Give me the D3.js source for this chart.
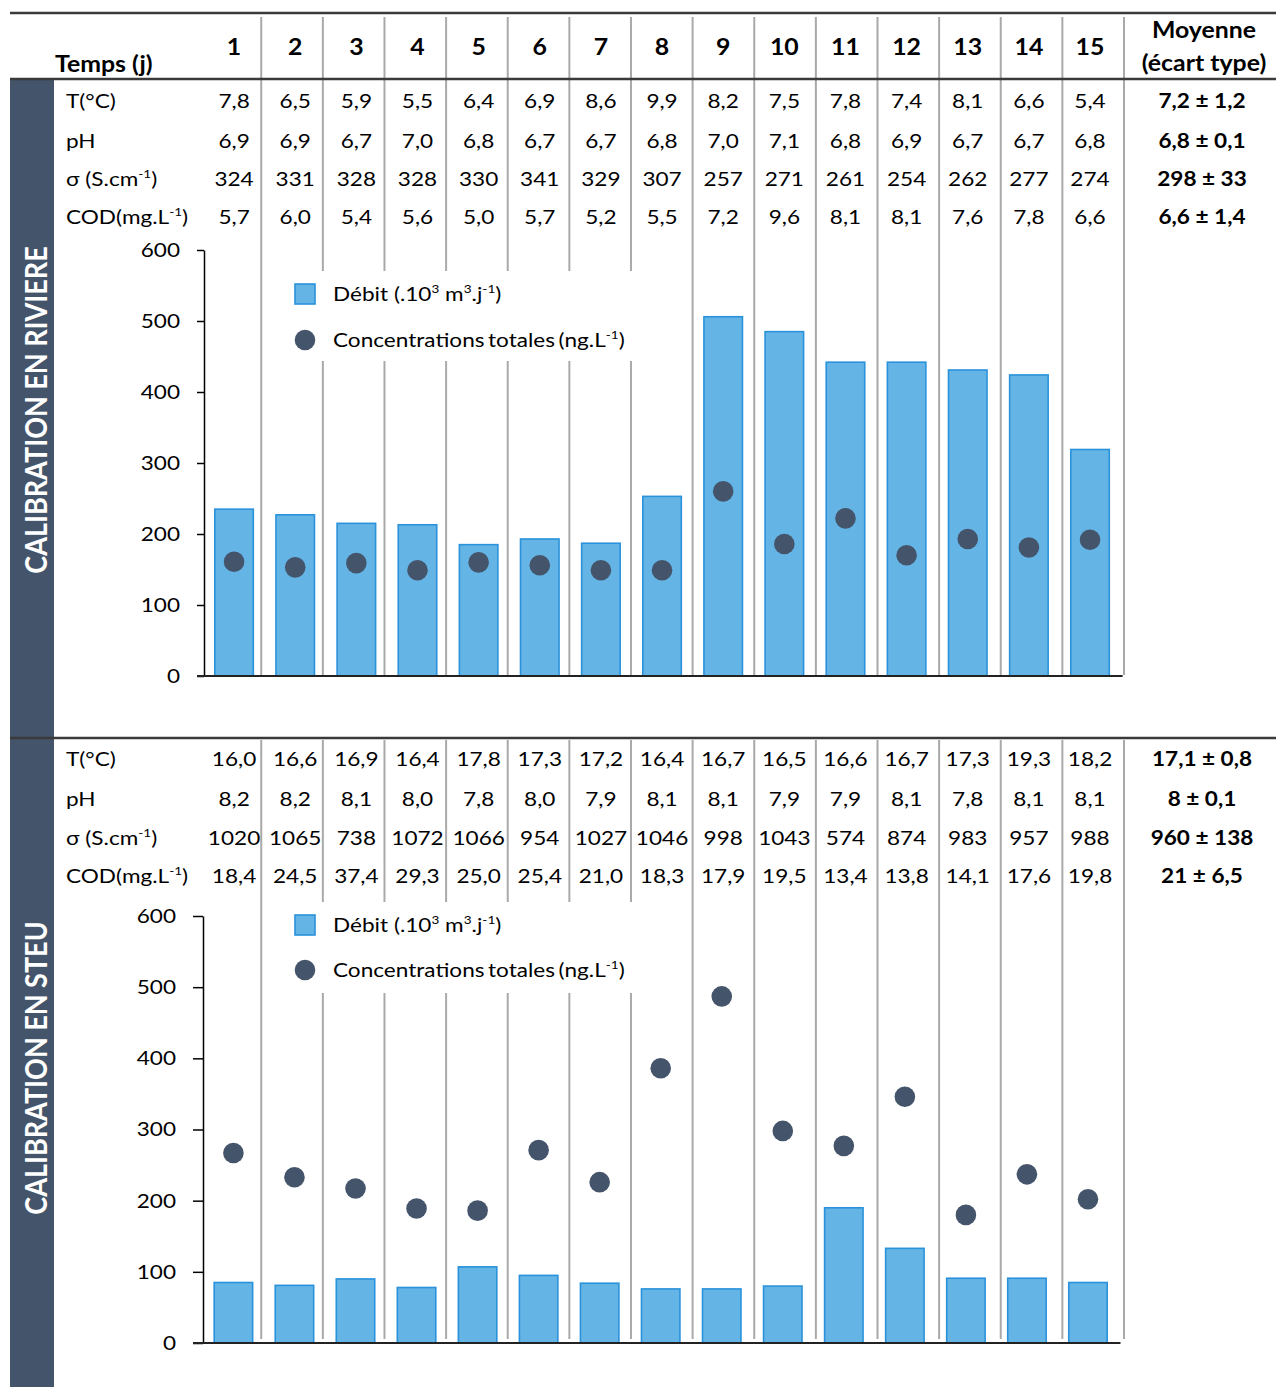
<!DOCTYPE html>
<html>
<head>
<meta charset="utf-8">
<script src="https://cdn.jsdelivr.net/npm/d3@7"></script>
<style>
  body { margin: 0; background: #fff; }
  svg { display: block; }
  text { font-family: Lato, "Open Sans", sans-serif; }
</style>
</head>
<body>
<svg id="chart" width="1276" height="1387"></svg>
<script>
// ---- data ----
const days = d3.range(1, 16);
const rowLabels = [
  [["T(°C)"]],
  [["pH"]],
  [["σ (S.cm"], ["-1", "sup"], [")"]],
  [["COD(mg.L"], ["-1", "sup"], [")"]]
];
const meanHeader = ["Moyenne", "(écart type)"];

// river campaign
const rivTemp = [7.8, 6.5, 5.9, 5.5, 6.4, 6.9, 8.6, 9.9, 8.2, 7.5, 7.8, 7.4, 8.1, 6.6, 5.4];
const rivPH   = [6.9, 6.9, 6.7, 7.0, 6.8, 6.7, 6.7, 6.8, 7.0, 7.1, 6.8, 6.9, 6.7, 6.7, 6.8];
const rivCond = [324, 331, 328, 328, 330, 341, 329, 307, 257, 271, 261, 254, 262, 277, 274];
const rivCOD  = [5.7, 6.0, 5.4, 5.6, 5.0, 5.7, 5.2, 5.5, 7.2, 9.6, 8.1, 8.1, 7.6, 7.8, 6.6];
const rivMeans = ["7,2 ± 1,2", "6,8 ± 0,1", "298 ± 33", "6,6 ± 1,4"];
const rivDebit = [235, 227, 215, 213, 185, 193, 187, 253, 506, 485, 442, 442, 431, 424, 319];
const rivConc  = [161, 153, 159, 149, 160, 156, 149, 149, 260, 186, 222, 170, 193, 181, 192];

// wastewater treatment plant campaign
const steuTemp = [16.0, 16.6, 16.9, 16.4, 17.8, 17.3, 17.2, 16.4, 16.7, 16.5, 16.6, 16.7, 17.3, 19.3, 18.2];
const steuPH   = [8.2, 8.2, 8.1, 8.0, 7.8, 8.0, 7.9, 8.1, 8.1, 7.9, 7.9, 8.1, 7.8, 8.1, 8.1];
const steuCond = [1020, 1065, 738, 1072, 1066, 954, 1027, 1046, 998, 1043, 574, 874, 983, 957, 988];
const steuCOD  = [18.4, 24.5, 37.4, 29.3, 25.0, 25.4, 21.0, 18.3, 17.9, 19.5, 13.4, 13.8, 14.1, 17.6, 19.8];
const steuMeans = ["17,1 ± 0,8", "8 ± 0,1", "960 ± 138", "21 ± 6,5"];
const steuDebit = [85, 81, 90, 78, 107, 95, 84, 76, 76, 80, 190, 133, 91, 91, 85];
const steuConc  = [267, 233, 217, 189, 186, 271, 226, 386, 487, 298, 277, 346, 180, 237, 202];

const yTicks = [0, 100, 200, 300, 400, 500, 600];
const legendDebit = [["Débit (.10"], ["3", "sup"], [" m"], ["3", "sup"], [".j"], ["-1", "sup"], [")"]];
const legendConc = [["Concentrations totales (ng.L"], ["-1", "sup"], [")"]];

// ---- styling ----
const SX = 1.13;              // horizontal text stretch
const SLATE = "#44546A";
const BAR_FILL = "#65B4E6";
const BAR_STROKE = "#2A92DB";
const GRID = "#A9A9A9";
const RULE = "#3A3A3A";

const fmt1 = v => v.toFixed(1).replace(".", ",");
const fmt0 = v => String(v);

const svg = d3.select("#chart");

function addText(parent, x, y, parts, o = {}) {
  const size = o.size || 20;
  const t = parent.append("text")
    .attr("transform", o.transform || `translate(${x},${y}) scale(${SX},1)`)
    .attr("text-anchor", o.anchor || "middle")
    .attr("font-size", size)
    .attr("font-weight", o.bold ? 700 : 400)
    .attr("fill", o.fill || "#000");
  if (o.wordSpacing != null) t.attr("word-spacing", o.wordSpacing);
  if (o.baseline) t.attr("dominant-baseline", o.baseline);
  const list = typeof parts === "string" ? [[parts]] : parts;
  const rise = size * 0.4;
  let up = false;
  list.forEach(([s, kind]) => {
    const ts = t.append("tspan").text(s);
    if (kind === "sup") {
      ts.attr("font-size", size * 0.6);
      if (!up) ts.attr("dy", -rise);
      up = true;
    } else {
      if (up) ts.attr("dy", rise);
      up = false;
    }
  });
  return t;
}

// table grid: column boundaries
const colEdge = d3.scaleLinear().domain([0, 15]).range([199.6, 1124]);
// text columns of the table
const xTable = d3.scaleBand().domain(days).range([203.5, 1120.6]);
const cx = d => xTable(d) + xTable.bandwidth() / 2;
const meanX = 1202;

const sections = [
  {
    label: "CALIBRATION EN RIVIERE", labelY: 410,
    top: 80, gridTop: 17, gridBottom: 675,
    rowsY: [108, 148, 186, 224],
    rows: [rivTemp.map(fmt1), rivPH.map(fmt1), rivCond.map(fmt0), rivCOD.map(fmt1)],
    means: rivMeans, debit: rivDebit, conc: rivConc,
    y0: 676, y600: 250, xRange: [203.5, 1120.6], axisX: 204, tickLen: 7,
    legendY: [294, 340], legendBg: [271, 361]
  },
  {
    label: "CALIBRATION EN STEU", labelY: 1068,
    top: 740, gridTop: 740, gridBottom: 1339,
    rowsY: [766, 806, 845, 883],
    rows: [steuTemp.map(fmt1), steuPH.map(fmt1), steuCond.map(fmt0), steuCOD.map(fmt1)],
    means: steuMeans, debit: steuDebit, conc: steuConc,
    y0: 1343, y600: 916, xRange: [202.9, 1118.5], axisX: 203, tickLen: 10,
    legendY: [925, 970], legendBg: [902, 993]
  }
];

// side band
svg.append("rect").attr("x", 10).attr("y", 80).attr("width", 44).attr("height", 1387 - 80).attr("fill", SLATE);

// vertical separators
sections.forEach(s => {
  svg.append("g").selectAll("line").data(d3.range(1, 16)).join("line")
    .attr("x1", k => colEdge(k)).attr("x2", k => colEdge(k))
    .attr("y1", s.gridTop).attr("y2", s.gridBottom)
    .attr("stroke", GRID).attr("stroke-width", 2);
});

// horizontal rules
[13, 79, 738].forEach(y => {
  svg.append("line").attr("x1", 10).attr("x2", 1276).attr("y1", y).attr("y2", y)
    .attr("stroke", RULE).attr("stroke-width", 2.5);
});

// header row
addText(svg, 55, 72, "Temps (j)", { anchor: "start", bold: true, size: 22 });
days.forEach(d => addText(svg, cx(d), 55, String(d), { bold: true, size: 22 }));
addText(svg, meanX + 2, 38, meanHeader[0], { bold: true, size: 22 });
addText(svg, meanX + 2, 71, meanHeader[1], { bold: true, size: 22 });

sections.forEach(s => {
  // side label
  svg.append("text")
    .attr("transform", `translate(35,${s.labelY}) rotate(-90) scale(1,${SX})`)
    .attr("text-anchor", "middle").attr("dominant-baseline", "central")
    .attr("font-size", 27).attr("font-weight", 700).attr("fill", "#fff")
    .text(s.label);

  // parameter rows
  s.rows.forEach((vals, r) => {
    const y = s.rowsY[r];
    addText(svg, 66, y, rowLabels[r], { anchor: "start" });
    days.forEach((d, i) => addText(svg, cx(d), y, vals[i]));
    addText(svg, meanX, y, s.means[r], { bold: true });
  });

  // chart
  const x = d3.scaleBand().domain(days).range(s.xRange);
  const y = d3.scaleLinear().domain([0, 600]).range([s.y0, s.y600]);
  const barW = x.bandwidth() * 0.63;
  const g = svg.append("g");

  g.selectAll("rect.bar").data(days).join("rect").attr("class", "bar")
    .attr("x", d => x(d) + (x.bandwidth() - barW) / 2)
    .attr("width", barW)
    .attr("y", (d, i) => y(s.debit[i]))
    .attr("height", (d, i) => y(0) - y(s.debit[i]))
    .attr("fill", BAR_FILL).attr("stroke", BAR_STROKE).attr("stroke-width", 1.6);

  g.selectAll("circle.dot").data(days).join("circle").attr("class", "dot")
    .attr("cx", d => x(d) + x.bandwidth() / 2)
    .attr("cy", (d, i) => y(s.conc[i]))
    .attr("r", 10.3).attr("fill", SLATE);

  // y axis
  const ax = g.append("g").attr("transform", `translate(${s.axisX},0)`)
    .call(d3.axisLeft(y).tickValues(yTicks).tickSize(s.tickLen).tickSizeOuter(0).tickPadding(17));
  ax.select(".domain").attr("stroke", "#000").attr("stroke-width", 1.5);
  ax.selectAll(".tick line").attr("stroke", "#000").attr("stroke-width", 1.5);
  ax.selectAll(".tick text")
    .attr("font-family", "Lato, 'Open Sans', sans-serif").attr("font-size", 20).attr("fill", "#000")
    .attr("x", -(s.tickLen + 17) / SX).attr("transform", `scale(${SX},1)`);

  // x axis baseline
  g.append("line").attr("x1", s.axisX - s.tickLen).attr("x2", s.xRange[1] + 2)
    .attr("y1", y(0)).attr("y2", y(0)).attr("stroke", "#222").attr("stroke-width", 1.8);

  // legend
  svg.append("rect").attr("x", 285).attr("y", s.legendBg[0]).attr("width", 375)
    .attr("height", s.legendBg[1] - s.legendBg[0]).attr("fill", "#fff");
  svg.append("rect").attr("x", 295).attr("y", s.legendY[0] - 10).attr("width", 20).attr("height", 20)
    .attr("fill", BAR_FILL).attr("stroke", BAR_STROKE).attr("stroke-width", 1.6);
  svg.append("circle").attr("cx", 305).attr("cy", s.legendY[1]).attr("r", 10.3).attr("fill", SLATE);
  addText(svg, 333, s.legendY[0] + 7, legendDebit, { anchor: "start" });
  addText(svg, 333, s.legendY[1] + 7, legendConc, { anchor: "start", wordSpacing: -2 });
});
</script>
</body>
</html>
